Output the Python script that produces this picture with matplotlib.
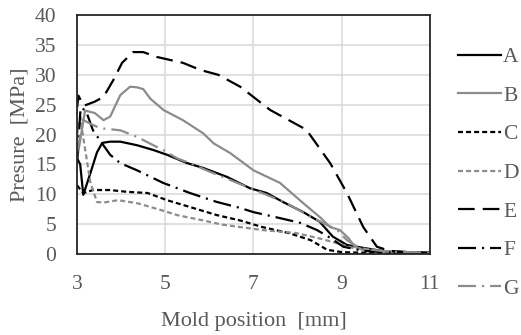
import matplotlib
matplotlib.use('Agg')
import matplotlib.pyplot as plt

# Data (mold position in mm, pressure in MPa)
a_x = [3.0, 3.07, 3.14, 3.3, 3.45, 3.57, 3.75, 3.98, 4.36, 4.73, 5.04, 5.5, 5.86, 6.4, 6.92, 7.3, 7.67, 8.13, 8.5, 8.8, 9.12, 9.5, 10.0, 10.5, 11.0]
a_y = [16.0, 15.0, 9.9, 13.5, 17.0, 18.6, 18.8, 18.8, 18.2, 17.4, 16.6, 15.2, 14.4, 12.9, 11.0, 10.2, 8.7, 7.0, 5.4, 2.9, 1.5, 1.0, 0.4, 0.3, 0.2]

b_x = [3.0, 3.07, 3.18, 3.4, 3.6, 3.75, 3.98, 4.2, 4.36, 4.5, 4.66, 4.96, 5.4, 5.86, 6.1, 6.47, 7.0, 7.6, 8.13, 8.5, 8.74, 8.96, 9.15, 9.3, 9.5, 10.0, 10.5, 11.0]
b_y = [16.0, 19.0, 24.0, 23.6, 22.4, 23.0, 26.6, 28.0, 27.9, 27.6, 26.0, 24.1, 22.4, 20.2, 18.5, 16.9, 14.0, 11.9, 8.5, 6.2, 4.5, 4.0, 2.7, 1.2, 0.6, 0.4, 0.3, 0.2]

c_x = [3.0, 3.07, 3.14, 3.36, 3.75, 4.13, 4.6, 5.04, 5.63, 6.17, 6.7, 7.2, 7.8, 8.3, 8.67, 9.0, 9.5, 10.0, 11.0]
c_y = [11.5, 10.8, 10.2, 10.7, 10.7, 10.4, 10.2, 9.0, 7.7, 6.5, 5.6, 4.5, 3.5, 2.3, 0.7, 0.3, 0.2, 0.1, 0.1]

d_x = [3.0, 3.07, 3.15, 3.3, 3.45, 3.6, 3.93, 4.36, 4.88, 5.27, 5.8, 6.3, 6.7, 7.2, 7.96, 8.44, 8.9, 9.26, 10.0, 10.5, 11.0]
d_y = [20.0, 23.0, 19.0, 12.0, 8.7, 8.6, 9.0, 8.5, 7.4, 6.5, 5.7, 4.9, 4.5, 4.0, 3.5, 2.7, 1.8, 1.0, 0.5, 0.3, 0.2]

e_x = [3.0, 3.03, 3.15, 3.4, 3.6, 3.82, 4.02, 4.27, 4.5, 4.8, 5.4, 5.8, 6.2, 6.7, 7.38, 8.2, 8.74, 9.12, 9.49, 9.8, 10.1, 10.5, 11.0]
e_y = [24.5, 26.5, 24.8, 25.5, 26.3, 29.1, 32.0, 33.8, 33.8, 33.0, 32.0, 30.8, 30.0, 28.0, 24.1, 20.8, 15.2, 10.2, 4.5, 1.2, 0.5, 0.3, 0.2]

f_x = [3.0, 3.08, 3.2, 3.36, 3.52, 3.75, 3.98, 4.36, 4.95, 5.56, 6.17, 6.7, 7.0, 7.6, 8.06, 8.44, 8.74, 9.04, 9.5, 10.0, 11.0]
f_y = [15.5, 24.5, 24.0, 20.7, 19.0, 16.6, 15.2, 14.0, 11.9, 10.2, 8.7, 7.7, 7.0, 6.0, 5.2, 4.0, 2.7, 1.2, 0.5, 0.3, 0.2]

g_x = [3.0, 3.05, 3.12, 3.3, 3.45, 3.6, 3.98, 4.36, 4.73, 4.95, 5.27, 5.56, 6.0, 6.5, 7.2, 7.75, 8.3, 8.9, 9.12, 9.4, 10.0, 11.0]
g_y = [17.0, 19.0, 22.5, 21.8, 21.3, 21.0, 20.7, 19.6, 18.2, 17.4, 16.0, 15.2, 13.8, 12.3, 10.2, 8.5, 6.2, 4.0, 2.3, 1.0, 0.4, 0.2]

labels = ['A', 'B', 'C', 'D', 'E', 'F', 'G']
x_ticks = [3, 5, 7, 9, 11]
y_ticks = [0, 5, 10, 15, 20, 25, 30, 35, 40]

BLACK = '#000000'
GRAY = '#8c8c8c'
TXT = '#595959'

plt.rcParams['font.family'] = ['Liberation Serif', 'DejaVu Serif']
plt.rcParams['font.size'] = 15.5
plt.rcParams['lines.scale_dashes'] = False

fig = plt.figure(figsize=(5.21, 3.35), dpi=100)
ax = fig.add_axes([0.148, 0.242, 0.677, 0.713])

short = (0, (3.6, 2.2))
long_dash = (0, (12, 5.8))
dash_dot = (0, (13, 4.3, 1.5, 4.3))

series = [
    (a_x, a_y, BLACK, '-'),
    (b_x, b_y, GRAY, '-'),
    (c_x, c_y, BLACK, short),
    (d_x, d_y, GRAY, short),
    (e_x, e_y, BLACK, long_dash),
    (f_x, f_y, BLACK, dash_dot),
    (g_x, g_y, GRAY, dash_dot),
]

for (xs, ys, col, ls), lab in zip(series, labels):
    ax.plot(xs, ys, color=col, linestyle=ls, linewidth=1.6, label=lab)

ax.set_xlim(3, 11)
ax.set_ylim(0, 40)
ax.set_xticks(x_ticks)
ax.set_yticks(y_ticks)
ax.grid(True, color='#d9d9d9', linewidth=1.1)
ax.set_axisbelow(True)
for sp in ax.spines.values():
    sp.set_color('#262626')
    sp.set_linewidth(1.3)
ax.tick_params(length=0, pad=15, colors=TXT, labelsize=15.5)

ax.set_xlabel('Mold position  [mm]', color=TXT, fontsize=16, labelpad=13)
ax.set_ylabel('Presure  [MPa]', color=TXT, fontsize=16, labelpad=4)

leg = ax.legend(loc='center left', bbox_to_anchor=(458 / 521, 1 - 173 / 335),
                bbox_transform=fig.transFigure, frameon=False, borderpad=0,
                borderaxespad=0, handlelength=2.0, handletextpad=0.1,
                labelspacing=0.86, fontsize=15.5)
for t in leg.get_texts():
    t.set_color(TXT)

fig.savefig('out.png', dpi=100)
